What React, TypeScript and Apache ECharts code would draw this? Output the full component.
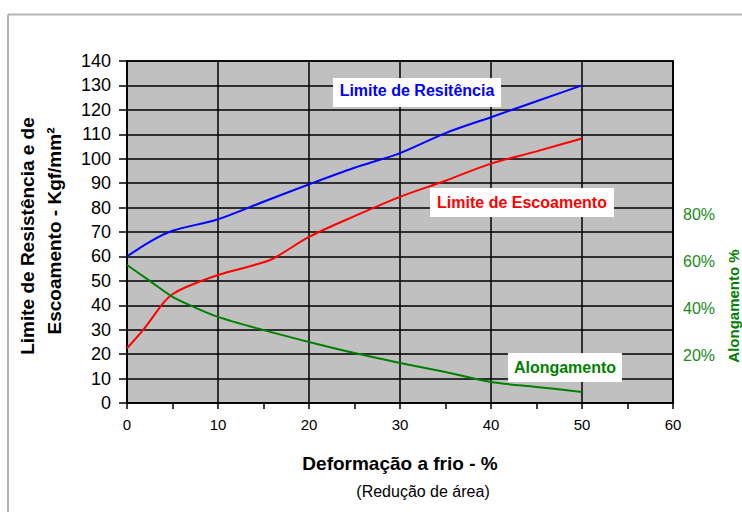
import React, { useEffect, useRef } from "react";
import * as echarts from "echarts";

// Limite de Resistência (kgf/mm²)
const resistX = [0, 2.5, 5, 10, 15, 20, 25, 30, 35, 40, 45, 50];
const resistY = [60, 66, 70.5, 75.2, 82.4, 89.5, 96.3, 102.3, 110.5, 117, 123.5, 130];
// Limite de Escoamento (kgf/mm²)
const escoX = [0, 2, 4, 5, 6.5, 10, 14, 16, 20, 25, 30, 35, 40, 45, 50];
const escoY = [22.4, 31, 41, 44.5, 47.5, 52.4, 56.5, 59, 68, 76.5, 84.4, 91, 98, 103, 108.3];
// Alongamento (%)
const alongX = [0, 2.5, 5, 7, 10, 15, 20, 25, 30, 35, 40, 45, 50];
const alongY = [58.5, 51.8, 45, 41.3, 36.5, 30.9, 25.9, 21.2, 17, 13.1, 8.9, 6.8, 4.7];
// right axis visible tick labels
const rightTicks = [20, 40, 60, 80];

const FONT = "'Liberation Sans', Arial, sans-serif";

export default function App() {
  const ref = useRef<HTMLDivElement>(null);
  useEffect(() => {
    if (!ref.current) return;
    const chart = echarts.init(ref.current, null, { renderer: "svg" });
    const zip = (xs: number[], ys: number[]) => xs.map((x, i) => [x, ys[i]]);
    chart.setOption({
      animation: false,
      backgroundColor: "#ffffff",
      textStyle: { fontFamily: FONT },
      grid: {
        left: 127,
        right: 69,
        top: 61,
        bottom: 109,
        show: true,
        backgroundColor: "#c0c0c0",
        borderColor: "#000",
        borderWidth: 1.5,
      },
      xAxis: {
        type: "value",
        min: 0,
        max: 60,
        interval: 10,
        axisLine: { show: true, lineStyle: { color: "#000", width: 1.5 } },
        axisTick: { show: true, length: 6, lineStyle: { color: "#000", width: 1.5 } },
        minorTick: { show: true, splitNumber: 2, length: 6, lineStyle: { color: "#000", width: 1.5 } },
        splitLine: { show: true, lineStyle: { color: "#000", width: 1.5 } },
        axisLabel: { color: "#000", fontSize: 15, margin: 14, fontFamily: FONT },
      },
      yAxis: [
        {
          type: "value",
          min: 0,
          max: 140,
          interval: 10,
          axisLine: { show: true, lineStyle: { color: "#000", width: 1.5 } },
          axisTick: { show: true, length: 8, lineStyle: { color: "#000", width: 1.5 } },
          splitLine: { show: true, lineStyle: { color: "#000", width: 1.5 } },
          axisLabel: { color: "#000", fontSize: 18, margin: 16, fontFamily: FONT },
        },
        {
          type: "value",
          min: 0,
          max: 145,
          interval: 20,
          position: "right",
          axisLine: { show: true, lineStyle: { color: "#000", width: 1.5 } },
          axisTick: { show: false },
          splitLine: { show: false },
          axisLabel: {
            color: "#1a8a1a",
            fontSize: 16,
            margin: 10,
            fontFamily: FONT,
            formatter: (v: number) => (rightTicks.includes(Math.round(v)) ? Math.round(v) + "%" : ""),
          },
        },
      ],
      series: [
        {
          type: "line",
          data: zip(resistX, resistY),
          smooth: 0.3,
          showSymbol: false,
          lineStyle: { color: "#0000ff", width: 2 },
        },
        {
          type: "line",
          data: zip(escoX, escoY),
          smooth: 0.3,
          showSymbol: false,
          lineStyle: { color: "#ff0000", width: 2 },
        },
        {
          type: "line",
          yAxisIndex: 1,
          data: zip(alongX, alongY),
          smooth: 0.3,
          showSymbol: false,
          lineStyle: { color: "#008000", width: 2 },
        },
      ],
      graphic: [
        { type: "line", shape: { x1: 8, y1: 14.5, x2: 742, y2: 14.5 }, style: { stroke: "#b4b4b4", lineWidth: 2 } },
        { type: "line", shape: { x1: 8, y1: 14.5, x2: 8, y2: 512 }, style: { stroke: "#b4b4b4", lineWidth: 2 } },
        { type: "rect", shape: { x: 333, y: 78, width: 168, height: 29 }, style: { fill: "#fff" }, z: 100 },
        {
          type: "text", x: 417, y: 90, z: 101,
          style: { text: "Limite de Resitência", fill: "#0000ff", font: `bold 16px ${FONT}`, align: "center", verticalAlign: "middle" },
        },
        { type: "rect", shape: { x: 430, y: 188, width: 184, height: 29 }, style: { fill: "#fff" }, z: 100 },
        {
          type: "text", x: 522, y: 202, z: 101,
          style: { text: "Limite de Escoamento", fill: "#ff0000", font: `bold 16px ${FONT}`, align: "center", verticalAlign: "middle" },
        },
        { type: "rect", shape: { x: 508, y: 353, width: 114, height: 29 }, style: { fill: "#fff" }, z: 100 },
        {
          type: "text", x: 565, y: 367, z: 101,
          style: { text: "Alongamento", fill: "#008000", font: `bold 16px ${FONT}`, align: "center", verticalAlign: "middle" },
        },
        {
          type: "text", x: 27, y: 236, rotation: Math.PI / 2, z: 101,
          style: { text: "Limite de Resistência e de", fill: "#000", font: `bold 19px ${FONT}`, align: "center", verticalAlign: "middle" },
        },
        {
          type: "text", x: 54, y: 231, rotation: Math.PI / 2, z: 101,
          style: { text: "Escoamento - Kgf/mm²", fill: "#000", font: `bold 19px ${FONT}`, align: "center", verticalAlign: "middle" },
        },
        {
          type: "text", x: 733, y: 306, rotation: Math.PI / 2, z: 101,
          style: { text: "Alongamento %", fill: "#008000", font: `bold 15px ${FONT}`, align: "center", verticalAlign: "middle" },
        },
        {
          type: "text", x: 400, y: 463, z: 101,
          style: { text: "Deformação a frio - %", fill: "#000", font: `bold 19px ${FONT}`, align: "center", verticalAlign: "middle" },
        },
        {
          type: "text", x: 423, y: 491, z: 101,
          style: { text: "(Redução de área)", fill: "#000", font: `16px ${FONT}`, align: "center", verticalAlign: "middle" },
        },
      ],
    });
    return () => chart.dispose();
  }, []);
  return (
    <div
      ref={ref}
      style={{ position: "absolute", left: 0, top: 0, width: 742, height: 512 }}
    />
  );
}
